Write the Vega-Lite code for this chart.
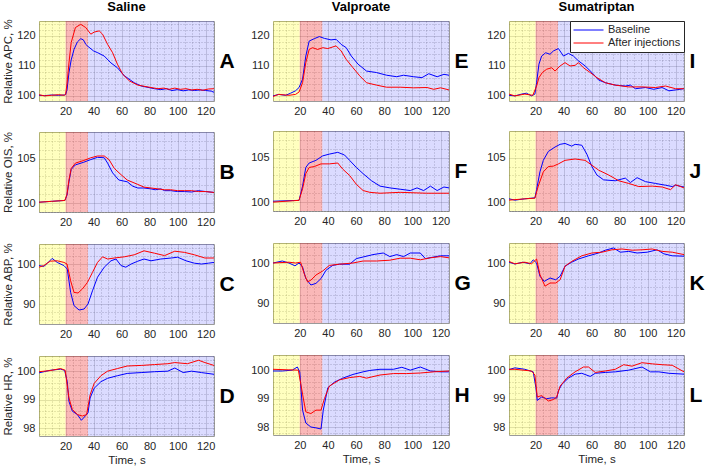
{
"$schema":"https://vega.github.io/schema/vega-lite/v6.json",
"background":"white",
"padding":{"left":2,"top":0,"right":0,"bottom":0},
"config":{"font":"Liberation Sans","view":{"stroke":"#9a9a9a","strokeWidth":1},
"axis":{"labelFontSize":11,"labelColor":"#262626","titleFontSize":11.5,"titleFontWeight":"normal","titleColor":"#262626","ticks":false,"domain":false,"gridColor":"#262626","labelOverlap":false,"labelFlush":false,"labelPadding":4,"titlePadding":3,"format":"d"},
"title":{"fontSize":13,"fontWeight":"bold","offset":0,"color":"black"},
"legend":{"labelFontSize":11,"labelColor":"#262626"}},
"datasets":{
"bands":[{"x1":1,"x2":20,"c":"pre"},{"x1":20,"x2":36,"c":"inj"},{"x1":36,"x2":126,"c":"post"}],
"A":[{"s":"b","t":1,"v":100.2},{"s":"b","t":5,"v":100.1},{"s":"b","t":10,"v":100.3},{"s":"b","t":15,"v":100.2},{"s":"b","t":19,"v":100.3},{"s":"b","t":20,"v":100.4},{"s":"b","t":21,"v":102},{"s":"b","t":22.4,"v":107.8},{"s":"b","t":24,"v":112},{"s":"b","t":26,"v":115.5},{"s":"b","t":28.4,"v":118},{"s":"b","t":30.8,"v":119.1},{"s":"b","t":32.7,"v":118.7},{"s":"b","t":34.4,"v":117.2},{"s":"b","t":36,"v":116.5},{"s":"b","t":40,"v":115},{"s":"b","t":43,"v":114.4},{"s":"b","t":47.6,"v":113.3},{"s":"b","t":52.4,"v":111},{"s":"b","t":57,"v":109.4},{"s":"b","t":62,"v":106.7},{"s":"b","t":69,"v":104.4},{"s":"b","t":74,"v":103.3},{"s":"b","t":83.5,"v":102.4},{"s":"b","t":88,"v":102.1},{"s":"b","t":92,"v":102.4},{"s":"b","t":96,"v":101.8},{"s":"b","t":100,"v":102.1},{"s":"b","t":104,"v":101.7},{"s":"b","t":108,"v":102},{"s":"b","t":112,"v":101.8},{"s":"b","t":116,"v":102},{"s":"b","t":120,"v":101.8},{"s":"b","t":124,"v":101.6},{"s":"b","t":126,"v":101.2},
{"s":"r","t":1,"v":100.4},{"s":"r","t":5,"v":100},{"s":"r","t":10,"v":100.2},{"s":"r","t":15,"v":100.4},{"s":"r","t":19,"v":100.2},{"s":"r","t":20,"v":100.5},{"s":"r","t":21,"v":104},{"s":"r","t":22.4,"v":111},{"s":"r","t":24,"v":117.8},{"s":"r","t":27,"v":122.8},{"s":"r","t":30.8,"v":123.9},{"s":"r","t":34.4,"v":122.8},{"s":"r","t":38,"v":120.6},{"s":"r","t":40.4,"v":121.3},{"s":"r","t":44,"v":121.7},{"s":"r","t":46.4,"v":120.6},{"s":"r","t":50,"v":117.2},{"s":"r","t":53.6,"v":114.4},{"s":"r","t":57,"v":110.6},{"s":"r","t":60.8,"v":107.2},{"s":"r","t":65.6,"v":105},{"s":"r","t":71.6,"v":103.6},{"s":"r","t":81,"v":102.8},{"s":"r","t":86,"v":102.4},{"s":"r","t":90,"v":102.6},{"s":"r","t":94,"v":102.2},{"s":"r","t":98,"v":102.6},{"s":"r","t":102,"v":102.2},{"s":"r","t":106,"v":102.4},{"s":"r","t":110,"v":102},{"s":"r","t":114,"v":102.2},{"s":"r","t":118,"v":101.9},{"s":"r","t":122,"v":102.3},{"s":"r","t":126,"v":102.4}],
"B":[{"s":"b","t":1,"v":100.1},{"s":"b","t":10,"v":100.2},{"s":"b","t":19.5,"v":100.3},{"s":"b","t":21,"v":100.9},{"s":"b","t":22.4,"v":102.4},{"s":"b","t":24,"v":103.8},{"s":"b","t":27,"v":104.3},{"s":"b","t":33,"v":104.6},{"s":"b","t":38,"v":104.9},{"s":"b","t":42.8,"v":105.15},{"s":"b","t":47.6,"v":105.1},{"s":"b","t":50,"v":104.5},{"s":"b","t":53.6,"v":103.4},{"s":"b","t":58,"v":102.6},{"s":"b","t":64,"v":102.4},{"s":"b","t":68,"v":101.9},{"s":"b","t":71.6,"v":101.7},{"s":"b","t":76,"v":101.7},{"s":"b","t":81,"v":101.6},{"s":"b","t":84,"v":101.5},{"s":"b","t":88,"v":101.6},{"s":"b","t":90.7,"v":101.4},{"s":"b","t":95,"v":101.4},{"s":"b","t":100,"v":101.3},{"s":"b","t":105,"v":101.3},{"s":"b","t":110,"v":101.25},{"s":"b","t":114.7,"v":101.4},{"s":"b","t":120,"v":101.3},{"s":"b","t":126,"v":101.2},
{"s":"r","t":1,"v":100.1},{"s":"r","t":10,"v":100.2},{"s":"r","t":19.5,"v":100.3},{"s":"r","t":21,"v":101},{"s":"r","t":22.4,"v":102.6},{"s":"r","t":24,"v":103.9},{"s":"r","t":27,"v":104.5},{"s":"r","t":33,"v":104.8},{"s":"r","t":38,"v":105.1},{"s":"r","t":42.8,"v":105.3},{"s":"r","t":47.6,"v":105.3},{"s":"r","t":51,"v":104.9},{"s":"r","t":54.8,"v":103.9},{"s":"r","t":59.6,"v":103.2},{"s":"r","t":64,"v":102.6},{"s":"r","t":71.6,"v":102.1},{"s":"r","t":76,"v":101.8},{"s":"r","t":81,"v":101.7},{"s":"r","t":86,"v":101.6},{"s":"r","t":90.7,"v":101.5},{"s":"r","t":95,"v":101.5},{"s":"r","t":100,"v":101.4},{"s":"r","t":105,"v":101.4},{"s":"r","t":110,"v":101.4},{"s":"r","t":115,"v":101.3},{"s":"r","t":120,"v":101.3},{"s":"r","t":126,"v":101.2}],
"C":[{"s":"b","t":1,"v":99.6},{"s":"b","t":4.4,"v":99.4},{"s":"b","t":7,"v":100.2},{"s":"b","t":10.4,"v":101.4},{"s":"b","t":14,"v":100.4},{"s":"b","t":18.8,"v":99.6},{"s":"b","t":21.2,"v":98.75},{"s":"b","t":23.6,"v":92.9},{"s":"b","t":26,"v":89.6},{"s":"b","t":29.6,"v":88.5},{"s":"b","t":33.2,"v":88.75},{"s":"b","t":36,"v":90},{"s":"b","t":39.2,"v":93.3},{"s":"b","t":42.8,"v":96.7},{"s":"b","t":47.6,"v":99.2},{"s":"b","t":52.4,"v":100.8},{"s":"b","t":56,"v":101.25},{"s":"b","t":59.6,"v":99.6},{"s":"b","t":63,"v":99.2},{"s":"b","t":66.8,"v":100},{"s":"b","t":71.6,"v":100.7},{"s":"b","t":76,"v":101.25},{"s":"b","t":81,"v":100.8},{"s":"b","t":88,"v":101.25},{"s":"b","t":95.5,"v":101.5},{"s":"b","t":100,"v":101.7},{"s":"b","t":106,"v":100.8},{"s":"b","t":112,"v":100.2},{"s":"b","t":117,"v":100},{"s":"b","t":122,"v":100.2},{"s":"b","t":126,"v":100.4},
{"s":"r","t":1,"v":99.2},{"s":"r","t":4.4,"v":99.6},{"s":"r","t":9,"v":100.7},{"s":"r","t":14,"v":100.8},{"s":"r","t":18.8,"v":100.4},{"s":"r","t":21,"v":100},{"s":"r","t":23.6,"v":95.8},{"s":"r","t":26,"v":92.9},{"s":"r","t":28.9,"v":92.75},{"s":"r","t":32,"v":93.75},{"s":"r","t":35.6,"v":95.4},{"s":"r","t":39.2,"v":97.9},{"s":"r","t":42.8,"v":100.4},{"s":"r","t":46.4,"v":101.8},{"s":"r","t":50,"v":101.25},{"s":"r","t":54.8,"v":101.5},{"s":"r","t":62,"v":101.8},{"s":"r","t":69,"v":102.3},{"s":"r","t":76,"v":103.3},{"s":"r","t":83.5,"v":102.7},{"s":"r","t":90.7,"v":102.1},{"s":"r","t":98,"v":103.2},{"s":"r","t":105,"v":102.9},{"s":"r","t":112,"v":102.3},{"s":"r","t":119.5,"v":101.5},{"s":"r","t":126,"v":101.5}],
"D":[{"s":"b","t":1,"v":99.94},{"s":"b","t":9,"v":100.03},{"s":"b","t":16.4,"v":100.07},{"s":"b","t":19.3,"v":100.03},{"s":"b","t":21.2,"v":99.63},{"s":"b","t":22.4,"v":98.94},{"s":"b","t":24.8,"v":98.6},{"s":"b","t":28.4,"v":98.48},{"s":"b","t":31.3,"v":98.28},{"s":"b","t":34.4,"v":98.45},{"s":"b","t":36,"v":98.54},{"s":"b","t":37.5,"v":99.06},{"s":"b","t":40.4,"v":99.4},{"s":"b","t":45.2,"v":99.63},{"s":"b","t":50,"v":99.75},{"s":"b","t":57,"v":99.84},{"s":"b","t":64,"v":99.92},{"s":"b","t":74,"v":99.95},{"s":"b","t":83.5,"v":99.98},{"s":"b","t":93,"v":100},{"s":"b","t":98,"v":100.11},{"s":"b","t":104,"v":99.95},{"s":"b","t":110,"v":100},{"s":"b","t":117,"v":99.95},{"s":"b","t":126,"v":99.89},
{"s":"r","t":1,"v":99.98},{"s":"r","t":9,"v":100.02},{"s":"r","t":16.4,"v":100.09},{"s":"r","t":19.7,"v":100.03},{"s":"r","t":22.4,"v":99.06},{"s":"r","t":24.8,"v":98.66},{"s":"r","t":28.4,"v":98.48},{"s":"r","t":32,"v":98.43},{"s":"r","t":35,"v":98.48},{"s":"r","t":37.5,"v":99.17},{"s":"r","t":40.4,"v":99.57},{"s":"r","t":45.2,"v":99.84},{"s":"r","t":50,"v":100},{"s":"r","t":57,"v":100.09},{"s":"r","t":64,"v":100.18},{"s":"r","t":74,"v":100.2},{"s":"r","t":83.5,"v":100.23},{"s":"r","t":93,"v":100.26},{"s":"r","t":98,"v":100.3},{"s":"r","t":107,"v":100.26},{"s":"r","t":115,"v":100.38},{"s":"r","t":119.5,"v":100.3},{"s":"r","t":126,"v":100.2}],
"E":[{"s":"b","t":1,"v":100},{"s":"b","t":5,"v":100.5},{"s":"b","t":10,"v":100.2},{"s":"b","t":13.5,"v":100.9},{"s":"b","t":17,"v":101.7},{"s":"b","t":19.5,"v":102.8},{"s":"b","t":22,"v":105.6},{"s":"b","t":24.3,"v":113.3},{"s":"b","t":26.7,"v":118.3},{"s":"b","t":30.3,"v":119.1},{"s":"b","t":33.9,"v":119.8},{"s":"b","t":37.5,"v":119.2},{"s":"b","t":42.2,"v":118.7},{"s":"b","t":45.8,"v":118.9},{"s":"b","t":49.4,"v":117.2},{"s":"b","t":53,"v":116.1},{"s":"b","t":56.6,"v":113.3},{"s":"b","t":61.4,"v":110.6},{"s":"b","t":67.4,"v":108.3},{"s":"b","t":74.5,"v":107.8},{"s":"b","t":81.7,"v":106.9},{"s":"b","t":88.9,"v":106.4},{"s":"b","t":93.7,"v":106.9},{"s":"b","t":100.9,"v":106.4},{"s":"b","t":106.8,"v":106.1},{"s":"b","t":111.6,"v":107.4},{"s":"b","t":117.6,"v":106.4},{"s":"b","t":122.4,"v":107.2},{"s":"b","t":126,"v":106.9},
{"s":"r","t":1,"v":99.8},{"s":"r","t":5,"v":100.5},{"s":"r","t":12.3,"v":100.2},{"s":"r","t":17,"v":100.5},{"s":"r","t":19.5,"v":101.3},{"s":"r","t":22,"v":104.4},{"s":"r","t":24.3,"v":111.1},{"s":"r","t":26.7,"v":115.5},{"s":"r","t":29.1,"v":116.1},{"s":"r","t":32.7,"v":115.5},{"s":"r","t":36.3,"v":116.1},{"s":"r","t":39.9,"v":115.8},{"s":"r","t":45.8,"v":116.7},{"s":"r","t":49.4,"v":115},{"s":"r","t":53,"v":112.2},{"s":"r","t":57.8,"v":109.4},{"s":"r","t":62.6,"v":106.7},{"s":"r","t":67.4,"v":104.4},{"s":"r","t":74.5,"v":103.6},{"s":"r","t":81.7,"v":102.9},{"s":"r","t":91.3,"v":102.9},{"s":"r","t":100.9,"v":102.7},{"s":"r","t":110.4,"v":102.8},{"s":"r","t":115.2,"v":102.2},{"s":"r","t":120,"v":102.7},{"s":"r","t":126,"v":102}],
"F":[{"s":"b","t":1,"v":100.1},{"s":"b","t":19.5,"v":100.2},{"s":"b","t":22,"v":101.8},{"s":"b","t":24.3,"v":103.9},{"s":"b","t":26.7,"v":104.4},{"s":"b","t":31.5,"v":104.7},{"s":"b","t":36.3,"v":105.2},{"s":"b","t":41,"v":105.4},{"s":"b","t":47,"v":105.6},{"s":"b","t":51.8,"v":105.3},{"s":"b","t":55.4,"v":104.7},{"s":"b","t":60.2,"v":103.9},{"s":"b","t":65,"v":103.2},{"s":"b","t":71,"v":102.4},{"s":"b","t":77,"v":101.8},{"s":"b","t":84,"v":101.6},{"s":"b","t":91.3,"v":101.45},{"s":"b","t":98.5,"v":101.3},{"s":"b","t":103.3,"v":101.6},{"s":"b","t":108,"v":101.3},{"s":"b","t":112.8,"v":101.8},{"s":"b","t":117.6,"v":101.3},{"s":"b","t":122.4,"v":101.7},{"s":"b","t":126,"v":101.6},
{"s":"r","t":1,"v":100},{"s":"r","t":19.5,"v":100.2},{"s":"r","t":22,"v":101.5},{"s":"r","t":24.3,"v":103.2},{"s":"r","t":26.7,"v":103.9},{"s":"r","t":30.3,"v":104},{"s":"r","t":35.1,"v":104.3},{"s":"r","t":41,"v":104.3},{"s":"r","t":47,"v":104.4},{"s":"r","t":50.6,"v":103.7},{"s":"r","t":55.4,"v":103},{"s":"r","t":60.2,"v":102},{"s":"r","t":65,"v":101.3},{"s":"r","t":69.8,"v":101.1},{"s":"r","t":77,"v":101},{"s":"r","t":91.3,"v":101.1},{"s":"r","t":110,"v":101},{"s":"r","t":126,"v":101}],
"G":[{"s":"b","t":1,"v":100},{"s":"b","t":7.6,"v":100.5},{"s":"b","t":12.3,"v":100},{"s":"b","t":16.6,"v":99.3},{"s":"b","t":19.5,"v":100},{"s":"b","t":22,"v":99},{"s":"b","t":24.3,"v":96.1},{"s":"b","t":27.9,"v":94.5},{"s":"b","t":31.5,"v":94.9},{"s":"b","t":35.1,"v":96.1},{"s":"b","t":38.7,"v":98.2},{"s":"b","t":43.4,"v":99.4},{"s":"b","t":48.2,"v":99.7},{"s":"b","t":55.4,"v":99.7},{"s":"b","t":60.2,"v":101.1},{"s":"b","t":65,"v":101.5},{"s":"b","t":72,"v":102.1},{"s":"b","t":79.3,"v":102.5},{"s":"b","t":84,"v":101.6},{"s":"b","t":88.9,"v":102.1},{"s":"b","t":93.7,"v":101.6},{"s":"b","t":98.5,"v":102.5},{"s":"b","t":105.6,"v":102.5},{"s":"b","t":109.2,"v":101.1},{"s":"b","t":115.2,"v":101.5},{"s":"b","t":120,"v":101.8},{"s":"b","t":126,"v":101.8},
{"s":"r","t":1,"v":100},{"s":"r","t":12.3,"v":100.2},{"s":"r","t":17.1,"v":100},{"s":"r","t":20.6,"v":100.2},{"s":"r","t":23.1,"v":97.4},{"s":"r","t":25.5,"v":95.3},{"s":"r","t":27.9,"v":95.7},{"s":"r","t":31.5,"v":97},{"s":"r","t":36.3,"v":98},{"s":"r","t":41,"v":99.4},{"s":"r","t":48.2,"v":99.7},{"s":"r","t":57.8,"v":100},{"s":"r","t":65,"v":100.5},{"s":"r","t":74.5,"v":100.5},{"s":"r","t":84,"v":100.7},{"s":"r","t":91.3,"v":101.2},{"s":"r","t":98.5,"v":101.2},{"s":"r","t":105.6,"v":100.8},{"s":"r","t":112.8,"v":101.3},{"s":"r","t":120,"v":101.6},{"s":"r","t":126,"v":101.3}],
"H":[{"s":"b","t":1,"v":99.97},{"s":"b","t":7.6,"v":99.97},{"s":"b","t":14.7,"v":100},{"s":"b","t":18.3,"v":100.11},{"s":"b","t":20,"v":99.94},{"s":"b","t":22,"v":98.6},{"s":"b","t":24.3,"v":98.15},{"s":"b","t":27.9,"v":98.01},{"s":"b","t":31.5,"v":97.98},{"s":"b","t":35.1,"v":97.94},{"s":"b","t":36.7,"v":98.6},{"s":"b","t":39.9,"v":99.38},{"s":"b","t":44.6,"v":99.58},{"s":"b","t":50.6,"v":99.72},{"s":"b","t":57.8,"v":99.85},{"s":"b","t":65,"v":99.94},{"s":"b","t":69.8,"v":99.99},{"s":"b","t":77,"v":100.03},{"s":"b","t":86.5,"v":100.03},{"s":"b","t":92.5,"v":100.1},{"s":"b","t":98.5,"v":100},{"s":"b","t":105.6,"v":100.11},{"s":"b","t":112.8,"v":99.97},{"s":"b","t":120,"v":99.94},{"s":"b","t":126,"v":99.94},
{"s":"r","t":1,"v":100.03},{"s":"r","t":12.3,"v":100.01},{"s":"r","t":19,"v":100},{"s":"r","t":22,"v":99.16},{"s":"r","t":24.3,"v":98.54},{"s":"r","t":27.9,"v":98.48},{"s":"r","t":31.5,"v":98.6},{"s":"r","t":35.1,"v":98.6},{"s":"r","t":37.5,"v":99},{"s":"r","t":41,"v":99.44},{"s":"r","t":48.2,"v":99.66},{"s":"r","t":55.4,"v":99.74},{"s":"r","t":62.6,"v":99.78},{"s":"r","t":67.4,"v":99.72},{"s":"r","t":77,"v":99.83},{"s":"r","t":86.5,"v":99.88},{"s":"r","t":96,"v":99.88},{"s":"r","t":105.6,"v":99.9},{"s":"r","t":115.2,"v":99.94},{"s":"r","t":126,"v":99.97}],
"I":[{"s":"b","t":1,"v":100.2},{"s":"b","t":5.2,"v":100},{"s":"b","t":10,"v":100.6},{"s":"b","t":13.5,"v":100.9},{"s":"b","t":17.1,"v":100},{"s":"b","t":19.5,"v":100.6},{"s":"b","t":20.7,"v":104.4},{"s":"b","t":22.4,"v":110.6},{"s":"b","t":24.3,"v":113.3},{"s":"b","t":27.2,"v":114.4},{"s":"b","t":30.3,"v":113.9},{"s":"b","t":32.7,"v":115},{"s":"b","t":36.3,"v":115.8},{"s":"b","t":39.9,"v":113.3},{"s":"b","t":43.4,"v":114.2},{"s":"b","t":47,"v":113.3},{"s":"b","t":50.6,"v":111.7},{"s":"b","t":55.4,"v":110},{"s":"b","t":60.2,"v":107.8},{"s":"b","t":65,"v":105.3},{"s":"b","t":69.8,"v":104.4},{"s":"b","t":76.9,"v":103.6},{"s":"b","t":84.1,"v":103.3},{"s":"b","t":87.7,"v":103.6},{"s":"b","t":91.3,"v":102.4},{"s":"b","t":98.5,"v":102.8},{"s":"b","t":104.4,"v":102.2},{"s":"b","t":110.4,"v":102.8},{"s":"b","t":115.2,"v":101.7},{"s":"b","t":120,"v":102},{"s":"b","t":126,"v":102.4},
{"s":"r","t":1,"v":100.6},{"s":"r","t":5.2,"v":100},{"s":"r","t":12.3,"v":100.6},{"s":"r","t":18,"v":100.2},{"s":"r","t":20.7,"v":103.3},{"s":"r","t":22.4,"v":106.1},{"s":"r","t":24.8,"v":107.8},{"s":"r","t":27.9,"v":108.9},{"s":"r","t":31.5,"v":109.4},{"s":"r","t":33.9,"v":108.3},{"s":"r","t":37.5,"v":110},{"s":"r","t":41,"v":111.1},{"s":"r","t":44.6,"v":110},{"s":"r","t":48.2,"v":110.2},{"s":"r","t":50.6,"v":111.1},{"s":"r","t":54.2,"v":109.4},{"s":"r","t":59,"v":107.8},{"s":"r","t":63.8,"v":106.1},{"s":"r","t":69.8,"v":104.4},{"s":"r","t":76.9,"v":103.6},{"s":"r","t":86.5,"v":103},{"s":"r","t":96,"v":103},{"s":"r","t":105.6,"v":102.8},{"s":"r","t":112.8,"v":103.3},{"s":"r","t":120,"v":102.4},{"s":"r","t":126,"v":102.4}],
"J":[{"s":"b","t":1,"v":100.37},{"s":"b","t":5.2,"v":100.22},{"s":"b","t":12.3,"v":100.37},{"s":"b","t":19.5,"v":100.48},{"s":"b","t":20.7,"v":101.4},{"s":"b","t":23.1,"v":103.4},{"s":"b","t":25.5,"v":104.7},{"s":"b","t":29.1,"v":105.7},{"s":"b","t":33.9,"v":106.2},{"s":"b","t":37.5,"v":106.5},{"s":"b","t":41,"v":106.6},{"s":"b","t":45.8,"v":106.3},{"s":"b","t":48.2,"v":106.5},{"s":"b","t":53,"v":106.4},{"s":"b","t":56.6,"v":105.4},{"s":"b","t":60.2,"v":104},{"s":"b","t":63.8,"v":103.05},{"s":"b","t":68.6,"v":102.5},{"s":"b","t":76.9,"v":102.4},{"s":"b","t":84.1,"v":102.7},{"s":"b","t":87.7,"v":102.2},{"s":"b","t":92.5,"v":102.75},{"s":"b","t":98.5,"v":102.3},{"s":"b","t":105.6,"v":102.1},{"s":"b","t":112.8,"v":101.9},{"s":"b","t":117.6,"v":101.75},{"s":"b","t":120,"v":101.9},{"s":"b","t":126,"v":101.7},
{"s":"r","t":1,"v":100.22},{"s":"r","t":12.3,"v":100.37},{"s":"r","t":19.5,"v":100.44},{"s":"r","t":21.9,"v":101.8},{"s":"r","t":25.5,"v":103.4},{"s":"r","t":29.1,"v":104},{"s":"r","t":32.7,"v":104.05},{"s":"r","t":36.3,"v":104.3},{"s":"r","t":41,"v":104.7},{"s":"r","t":48.2,"v":104.85},{"s":"r","t":55.4,"v":104.7},{"s":"r","t":60.2,"v":104.15},{"s":"r","t":65,"v":103.6},{"s":"r","t":72.2,"v":103.05},{"s":"r","t":79.4,"v":102.4},{"s":"r","t":86.5,"v":102.1},{"s":"r","t":93.7,"v":101.75},{"s":"r","t":103.3,"v":101.8},{"s":"r","t":110.4,"v":101.7},{"s":"r","t":116.4,"v":101.4},{"s":"r","t":120,"v":101.95},{"s":"r","t":126,"v":101.6}],
"K":[{"s":"b","t":1,"v":100.2},{"s":"b","t":5.2,"v":99.75},{"s":"b","t":11,"v":100.2},{"s":"b","t":16,"v":99.8},{"s":"b","t":18.3,"v":100.8},{"s":"b","t":20.7,"v":100},{"s":"b","t":23.1,"v":96.7},{"s":"b","t":26.2,"v":95.4},{"s":"b","t":30.3,"v":96.25},{"s":"b","t":34.4,"v":95.8},{"s":"b","t":37.5,"v":96.7},{"s":"b","t":41,"v":99.2},{"s":"b","t":45.8,"v":100.2},{"s":"b","t":50.6,"v":101},{"s":"b","t":57.8,"v":101.8},{"s":"b","t":65,"v":102.5},{"s":"b","t":69.8,"v":103.2},{"s":"b","t":75.7,"v":103.75},{"s":"b","t":80.5,"v":102.7},{"s":"b","t":86.5,"v":102.9},{"s":"b","t":92.5,"v":102.5},{"s":"b","t":99.7,"v":102.7},{"s":"b","t":106.8,"v":103.3},{"s":"b","t":111.6,"v":102.3},{"s":"b","t":117.6,"v":101.8},{"s":"b","t":126,"v":101.7},
{"s":"r","t":1,"v":100.4},{"s":"r","t":5.2,"v":99.8},{"s":"r","t":12.3,"v":100.2},{"s":"r","t":17.1,"v":99.8},{"s":"r","t":20.7,"v":101},{"s":"r","t":23.1,"v":97.1},{"s":"r","t":26.7,"v":94.2},{"s":"r","t":30.3,"v":95},{"s":"r","t":34.4,"v":95},{"s":"r","t":37.5,"v":95.8},{"s":"r","t":41,"v":99.2},{"s":"r","t":45.8,"v":100.4},{"s":"r","t":53,"v":101.8},{"s":"r","t":60.2,"v":102.5},{"s":"r","t":67.4,"v":102.7},{"s":"r","t":74.5,"v":103.3},{"s":"r","t":81.7,"v":103.5},{"s":"r","t":89,"v":103.2},{"s":"r","t":96,"v":103.3},{"s":"r","t":103.3,"v":103.5},{"s":"r","t":110.4,"v":102.9},{"s":"r","t":117.6,"v":102.7},{"s":"r","t":126,"v":102.1}],
"L":[{"s":"b","t":1,"v":100.02},{"s":"b","t":5.2,"v":100.08},{"s":"b","t":12.3,"v":100.03},{"s":"b","t":18.3,"v":99.94},{"s":"b","t":20.2,"v":99.39},{"s":"b","t":21.2,"v":98.94},{"s":"b","t":24.3,"v":99.06},{"s":"b","t":27.9,"v":99},{"s":"b","t":31.5,"v":99.03},{"s":"b","t":35.1,"v":99.02},{"s":"b","t":36.3,"v":99.28},{"s":"b","t":38.7,"v":99.5},{"s":"b","t":43.4,"v":99.72},{"s":"b","t":48.2,"v":99.86},{"s":"b","t":53,"v":99.89},{"s":"b","t":59,"v":99.78},{"s":"b","t":62.6,"v":99.89},{"s":"b","t":69.8,"v":99.92},{"s":"b","t":76.9,"v":99.94},{"s":"b","t":86.5,"v":100},{"s":"b","t":96,"v":100.11},{"s":"b","t":102,"v":99.94},{"s":"b","t":108,"v":99.94},{"s":"b","t":115.2,"v":99.89},{"s":"b","t":126,"v":99.86},
{"s":"r","t":1,"v":100.03},{"s":"r","t":5.2,"v":100.03},{"s":"r","t":17.1,"v":99.97},{"s":"r","t":19.5,"v":99.83},{"s":"r","t":21.2,"v":99.06},{"s":"r","t":24.3,"v":99.11},{"s":"r","t":29.1,"v":98.92},{"s":"r","t":32.7,"v":98.97},{"s":"r","t":35.1,"v":99.06},{"s":"r","t":37.5,"v":99.44},{"s":"r","t":42.2,"v":99.72},{"s":"r","t":48.2,"v":99.94},{"s":"r","t":54.2,"v":100.11},{"s":"r","t":57.8,"v":100.11},{"s":"r","t":62.6,"v":99.92},{"s":"r","t":69.8,"v":99.97},{"s":"r","t":76.9,"v":100.03},{"s":"r","t":82.9,"v":100.19},{"s":"r","t":88.9,"v":100.14},{"s":"r","t":96,"v":100.26},{"s":"r","t":103.3,"v":100.22},{"s":"r","t":110.4,"v":100.19},{"s":"r","t":117.6,"v":100.17},{"s":"r","t":126,"v":99.94}]
},
"spacing":15,
"resolve":{"legend":{"stroke":"independent","fill":"independent"}},
"hconcat":[
{"spacing":13,"resolve":{"legend":{"stroke":"independent","fill":"independent"}},"vconcat":[
{"width":175,"height":80,"title":"Saline","resolve":{"axis":{"y":"independent"}},"layer":[
{"data":{"name":"bands"},"mark":"rect","encoding":{"x":{"field":"x1","type":"quantitative","scale":{"domain":[1,126],"nice":false,"zero":false},"axis":{"title":null,"values":[5,10,15,20,25,30,35,40,45,50,55,60,65,70,75,80,85,90,95,100,105,110,115,120,125],"labelExpr":"datum.value % 20 == 0 ? datum.label : ''","gridDash":{"condition":{"test":"datum.value % 20 != 0","value":[1,2]},"value":[]},"gridOpacity":{"condition":{"test":"datum.value % 20 != 0","value":0.3},"value":0.18}}},"x2":{"field":"x2"},"fill":{"field":"c","type":"nominal","scale":{"domain":["pre","inj","post"],"range":["rgba(255,255,0,0.25)","rgba(240,40,40,0.33)","rgba(40,40,255,0.17)"]},"legend":null}}},
{"data":{"name":"A"},"mark":{"type":"line","strokeWidth":1,"clip":true},"encoding":{"x":{"field":"t","type":"quantitative","scale":{"domain":[1,126],"nice":false,"zero":false},"axis":{"title":null,"values":[5,10,15,20,25,30,35,40,45,50,55,60,65,70,75,80,85,90,95,100,105,110,115,120,125],"labelExpr":"datum.value % 20 == 0 ? datum.label : ''","gridDash":{"condition":{"test":"datum.value % 20 != 0","value":[1,2]},"value":[]},"gridOpacity":{"condition":{"test":"datum.value % 20 != 0","value":0.3},"value":0.18}}},"y":{"field":"v","type":"quantitative","scale":{"domain":[98.3,125],"nice":false,"zero":false},"axis":{"title":"Relative APC, %","values":[100,102,104,106,108,110,112,114,116,118,120,122,124],"labelExpr":"datum.value % 10 == 0 ? datum.label : ''","gridDash":{"condition":{"test":"datum.value % 10 != 0","value":[1,2]},"value":[]},"gridOpacity":{"condition":{"test":"datum.value % 10 != 0","value":0.3},"value":0.18}}},"stroke":{"field":"s","type":"nominal","scale":{"domain":["b","r"],"range":["#0000FF","#FF0000"]},"legend":null}}},
{"data":{"name":"A"},"mark":{"type":"point","opacity":0},"encoding":{"y":{"field":"v","type":"quantitative","scale":{"domain":[98.3,125],"nice":false,"zero":false},"axis":{"orient":"right","title":"A","labels":false,"grid":false,"titleAngle":0,"titleFontSize":21,"titleFontWeight":"bold","titleColor":"black","titlePadding":5,"titleAlign":"left","titleBaseline":"middle"}}}}]},
{"width":175,"height":80,"resolve":{"axis":{"y":"independent"}},"layer":[
{"data":{"name":"bands"},"mark":"rect","encoding":{"x":{"field":"x1","type":"quantitative","scale":{"domain":[1,126],"nice":false,"zero":false},"axis":{"title":null,"values":[5,10,15,20,25,30,35,40,45,50,55,60,65,70,75,80,85,90,95,100,105,110,115,120,125],"labelExpr":"datum.value % 20 == 0 ? datum.label : ''","gridDash":{"condition":{"test":"datum.value % 20 != 0","value":[1,2]},"value":[]},"gridOpacity":{"condition":{"test":"datum.value % 20 != 0","value":0.3},"value":0.18}}},"x2":{"field":"x2"},"fill":{"field":"c","type":"nominal","scale":{"domain":["pre","inj","post"],"range":["rgba(255,255,0,0.25)","rgba(240,40,40,0.33)","rgba(40,40,255,0.17)"]},"legend":null}}},
{"data":{"name":"B"},"mark":{"type":"line","strokeWidth":1,"clip":true},"encoding":{"x":{"field":"t","type":"quantitative","scale":{"domain":[1,126],"nice":false,"zero":false},"axis":{"title":null,"values":[5,10,15,20,25,30,35,40,45,50,55,60,65,70,75,80,85,90,95,100,105,110,115,120,125],"labelExpr":"datum.value % 20 == 0 ? datum.label : ''","gridDash":{"condition":{"test":"datum.value % 20 != 0","value":[1,2]},"value":[]},"gridOpacity":{"condition":{"test":"datum.value % 20 != 0","value":0.3},"value":0.18}}},"y":{"field":"v","type":"quantitative","scale":{"domain":[99,108],"nice":false,"zero":false},"axis":{"title":"Relative OIS, %","values":[99,100,101,102,103,104,105,106,107],"labelExpr":"datum.value % 5 == 0 ? datum.label : ''","gridDash":{"condition":{"test":"datum.value % 5 != 0","value":[1,2]},"value":[]},"gridOpacity":{"condition":{"test":"datum.value % 5 != 0","value":0.3},"value":0.18}}},"stroke":{"field":"s","type":"nominal","scale":{"domain":["b","r"],"range":["#0000FF","#FF0000"]},"legend":null}}},
{"data":{"name":"B"},"mark":{"type":"point","opacity":0},"encoding":{"y":{"field":"v","type":"quantitative","scale":{"domain":[99,108],"nice":false,"zero":false},"axis":{"orient":"right","title":"B","labels":false,"grid":false,"titleAngle":0,"titleFontSize":21,"titleFontWeight":"bold","titleColor":"black","titlePadding":5,"titleAlign":"left","titleBaseline":"middle"}}}}]},
{"width":175,"height":80,"resolve":{"axis":{"y":"independent"}},"layer":[
{"data":{"name":"bands"},"mark":"rect","encoding":{"x":{"field":"x1","type":"quantitative","scale":{"domain":[1,126],"nice":false,"zero":false},"axis":{"title":null,"values":[5,10,15,20,25,30,35,40,45,50,55,60,65,70,75,80,85,90,95,100,105,110,115,120,125],"labelExpr":"datum.value % 20 == 0 ? datum.label : ''","gridDash":{"condition":{"test":"datum.value % 20 != 0","value":[1,2]},"value":[]},"gridOpacity":{"condition":{"test":"datum.value % 20 != 0","value":0.3},"value":0.18}}},"x2":{"field":"x2"},"fill":{"field":"c","type":"nominal","scale":{"domain":["pre","inj","post"],"range":["rgba(255,255,0,0.25)","rgba(240,40,40,0.33)","rgba(40,40,255,0.17)"]},"legend":null}}},
{"data":{"name":"C"},"mark":{"type":"line","strokeWidth":1,"clip":true},"encoding":{"x":{"field":"t","type":"quantitative","scale":{"domain":[1,126],"nice":false,"zero":false},"axis":{"title":null,"values":[5,10,15,20,25,30,35,40,45,50,55,60,65,70,75,80,85,90,95,100,105,110,115,120,125],"labelExpr":"datum.value % 20 == 0 ? datum.label : ''","gridDash":{"condition":{"test":"datum.value % 20 != 0","value":[1,2]},"value":[]},"gridOpacity":{"condition":{"test":"datum.value % 20 != 0","value":0.3},"value":0.18}}},"y":{"field":"v","type":"quantitative","scale":{"domain":[85,105],"nice":false,"zero":false},"axis":{"title":"Relative ABP, %","values":[86,88,90,92,94,96,98,100,102,104],"labelExpr":"datum.value % 10 == 0 ? datum.label : ''","gridDash":{"condition":{"test":"datum.value % 10 != 0","value":[1,2]},"value":[]},"gridOpacity":{"condition":{"test":"datum.value % 10 != 0","value":0.3},"value":0.18}}},"stroke":{"field":"s","type":"nominal","scale":{"domain":["b","r"],"range":["#0000FF","#FF0000"]},"legend":null}}},
{"data":{"name":"C"},"mark":{"type":"point","opacity":0},"encoding":{"y":{"field":"v","type":"quantitative","scale":{"domain":[85,105],"nice":false,"zero":false},"axis":{"orient":"right","title":"C","labels":false,"grid":false,"titleAngle":0,"titleFontSize":21,"titleFontWeight":"bold","titleColor":"black","titlePadding":5,"titleAlign":"left","titleBaseline":"middle"}}}}]},
{"width":175,"height":80,"resolve":{"axis":{"y":"independent"}},"layer":[
{"data":{"name":"bands"},"mark":"rect","encoding":{"x":{"field":"x1","type":"quantitative","scale":{"domain":[1,126],"nice":false,"zero":false},"axis":{"title":"Time, s","values":[5,10,15,20,25,30,35,40,45,50,55,60,65,70,75,80,85,90,95,100,105,110,115,120,125],"labelExpr":"datum.value % 20 == 0 ? datum.label : ''","gridDash":{"condition":{"test":"datum.value % 20 != 0","value":[1,2]},"value":[]},"gridOpacity":{"condition":{"test":"datum.value % 20 != 0","value":0.3},"value":0.18}}},"x2":{"field":"x2"},"fill":{"field":"c","type":"nominal","scale":{"domain":["pre","inj","post"],"range":["rgba(255,255,0,0.25)","rgba(240,40,40,0.33)","rgba(40,40,255,0.17)"]},"legend":null}}},
{"data":{"name":"D"},"mark":{"type":"line","strokeWidth":1,"clip":true},"encoding":{"x":{"field":"t","type":"quantitative","scale":{"domain":[1,126],"nice":false,"zero":false},"axis":{"title":"Time, s","values":[5,10,15,20,25,30,35,40,45,50,55,60,65,70,75,80,85,90,95,100,105,110,115,120,125],"labelExpr":"datum.value % 20 == 0 ? datum.label : ''","gridDash":{"condition":{"test":"datum.value % 20 != 0","value":[1,2]},"value":[]},"gridOpacity":{"condition":{"test":"datum.value % 20 != 0","value":0.3},"value":0.18}}},"y":{"field":"v","type":"quantitative","scale":{"domain":[97.73,100.53],"nice":false,"zero":false},"axis":{"title":"Relative HR, %","values":[97.8,98,98.2,98.4,98.6,98.8,99,99.2,99.4,99.6,99.8,100,100.2,100.4],"labelExpr":"datum.value % 1 == 0 ? datum.label : ''","gridDash":{"condition":{"test":"datum.value % 1 != 0","value":[1,2]},"value":[]},"gridOpacity":{"condition":{"test":"datum.value % 1 != 0","value":0.3},"value":0.18}}},"stroke":{"field":"s","type":"nominal","scale":{"domain":["b","r"],"range":["#0000FF","#FF0000"]},"legend":null}}},
{"data":{"name":"D"},"mark":{"type":"point","opacity":0},"encoding":{"y":{"field":"v","type":"quantitative","scale":{"domain":[97.73,100.53],"nice":false,"zero":false},"axis":{"orient":"right","title":"D","labels":false,"grid":false,"titleAngle":0,"titleFontSize":21,"titleFontWeight":"bold","titleColor":"black","titlePadding":5,"titleAlign":"left","titleBaseline":"middle"}}}}]}
]},
{"spacing":13,"resolve":{"legend":{"stroke":"independent","fill":"independent"}},"vconcat":[
{"width":176,"height":80,"title":"Valproate","resolve":{"axis":{"y":"independent"}},"layer":[
{"data":{"name":"bands"},"mark":"rect","encoding":{"x":{"field":"x1","type":"quantitative","scale":{"domain":[1,126],"nice":false,"zero":false},"axis":{"title":null,"values":[5,10,15,20,25,30,35,40,45,50,55,60,65,70,75,80,85,90,95,100,105,110,115,120,125],"labelExpr":"datum.value % 20 == 0 ? datum.label : ''","gridDash":{"condition":{"test":"datum.value % 20 != 0","value":[1,2]},"value":[]},"gridOpacity":{"condition":{"test":"datum.value % 20 != 0","value":0.3},"value":0.18}}},"x2":{"field":"x2"},"fill":{"field":"c","type":"nominal","scale":{"domain":["pre","inj","post"],"range":["rgba(255,255,0,0.25)","rgba(240,40,40,0.33)","rgba(40,40,255,0.17)"]},"legend":null}}},
{"data":{"name":"E"},"mark":{"type":"line","strokeWidth":1,"clip":true},"encoding":{"x":{"field":"t","type":"quantitative","scale":{"domain":[1,126],"nice":false,"zero":false},"axis":{"title":null,"values":[5,10,15,20,25,30,35,40,45,50,55,60,65,70,75,80,85,90,95,100,105,110,115,120,125],"labelExpr":"datum.value % 20 == 0 ? datum.label : ''","gridDash":{"condition":{"test":"datum.value % 20 != 0","value":[1,2]},"value":[]},"gridOpacity":{"condition":{"test":"datum.value % 20 != 0","value":0.3},"value":0.18}}},"y":{"field":"v","type":"quantitative","scale":{"domain":[98.3,125],"nice":false,"zero":false},"axis":{"title":null,"values":[100,102,104,106,108,110,112,114,116,118,120,122,124],"labelExpr":"datum.value % 10 == 0 ? datum.label : ''","gridDash":{"condition":{"test":"datum.value % 10 != 0","value":[1,2]},"value":[]},"gridOpacity":{"condition":{"test":"datum.value % 10 != 0","value":0.3},"value":0.18}}},"stroke":{"field":"s","type":"nominal","scale":{"domain":["b","r"],"range":["#0000FF","#FF0000"]},"legend":null}}},
{"data":{"name":"E"},"mark":{"type":"point","opacity":0},"encoding":{"y":{"field":"v","type":"quantitative","scale":{"domain":[98.3,125],"nice":false,"zero":false},"axis":{"orient":"right","title":"E","labels":false,"grid":false,"titleAngle":0,"titleFontSize":21,"titleFontWeight":"bold","titleColor":"black","titlePadding":5,"titleAlign":"left","titleBaseline":"middle"}}}}]},
{"width":176,"height":80,"resolve":{"axis":{"y":"independent"}},"layer":[
{"data":{"name":"bands"},"mark":"rect","encoding":{"x":{"field":"x1","type":"quantitative","scale":{"domain":[1,126],"nice":false,"zero":false},"axis":{"title":null,"values":[5,10,15,20,25,30,35,40,45,50,55,60,65,70,75,80,85,90,95,100,105,110,115,120,125],"labelExpr":"datum.value % 20 == 0 ? datum.label : ''","gridDash":{"condition":{"test":"datum.value % 20 != 0","value":[1,2]},"value":[]},"gridOpacity":{"condition":{"test":"datum.value % 20 != 0","value":0.3},"value":0.18}}},"x2":{"field":"x2"},"fill":{"field":"c","type":"nominal","scale":{"domain":["pre","inj","post"],"range":["rgba(255,255,0,0.25)","rgba(240,40,40,0.33)","rgba(40,40,255,0.17)"]},"legend":null}}},
{"data":{"name":"F"},"mark":{"type":"line","strokeWidth":1,"clip":true},"encoding":{"x":{"field":"t","type":"quantitative","scale":{"domain":[1,126],"nice":false,"zero":false},"axis":{"title":null,"values":[5,10,15,20,25,30,35,40,45,50,55,60,65,70,75,80,85,90,95,100,105,110,115,120,125],"labelExpr":"datum.value % 20 == 0 ? datum.label : ''","gridDash":{"condition":{"test":"datum.value % 20 != 0","value":[1,2]},"value":[]},"gridOpacity":{"condition":{"test":"datum.value % 20 != 0","value":0.3},"value":0.18}}},"y":{"field":"v","type":"quantitative","scale":{"domain":[99,108],"nice":false,"zero":false},"axis":{"title":null,"values":[99,100,101,102,103,104,105,106,107],"labelExpr":"datum.value % 5 == 0 ? datum.label : ''","gridDash":{"condition":{"test":"datum.value % 5 != 0","value":[1,2]},"value":[]},"gridOpacity":{"condition":{"test":"datum.value % 5 != 0","value":0.3},"value":0.18}}},"stroke":{"field":"s","type":"nominal","scale":{"domain":["b","r"],"range":["#0000FF","#FF0000"]},"legend":null}}},
{"data":{"name":"F"},"mark":{"type":"point","opacity":0},"encoding":{"y":{"field":"v","type":"quantitative","scale":{"domain":[99,108],"nice":false,"zero":false},"axis":{"orient":"right","title":"F","labels":false,"grid":false,"titleAngle":0,"titleFontSize":21,"titleFontWeight":"bold","titleColor":"black","titlePadding":5,"titleAlign":"left","titleBaseline":"middle"}}}}]},
{"width":176,"height":80,"resolve":{"axis":{"y":"independent"}},"layer":[
{"data":{"name":"bands"},"mark":"rect","encoding":{"x":{"field":"x1","type":"quantitative","scale":{"domain":[1,126],"nice":false,"zero":false},"axis":{"title":null,"values":[5,10,15,20,25,30,35,40,45,50,55,60,65,70,75,80,85,90,95,100,105,110,115,120,125],"labelExpr":"datum.value % 20 == 0 ? datum.label : ''","gridDash":{"condition":{"test":"datum.value % 20 != 0","value":[1,2]},"value":[]},"gridOpacity":{"condition":{"test":"datum.value % 20 != 0","value":0.3},"value":0.18}}},"x2":{"field":"x2"},"fill":{"field":"c","type":"nominal","scale":{"domain":["pre","inj","post"],"range":["rgba(255,255,0,0.25)","rgba(240,40,40,0.33)","rgba(40,40,255,0.17)"]},"legend":null}}},
{"data":{"name":"G"},"mark":{"type":"line","strokeWidth":1,"clip":true},"encoding":{"x":{"field":"t","type":"quantitative","scale":{"domain":[1,126],"nice":false,"zero":false},"axis":{"title":null,"values":[5,10,15,20,25,30,35,40,45,50,55,60,65,70,75,80,85,90,95,100,105,110,115,120,125],"labelExpr":"datum.value % 20 == 0 ? datum.label : ''","gridDash":{"condition":{"test":"datum.value % 20 != 0","value":[1,2]},"value":[]},"gridOpacity":{"condition":{"test":"datum.value % 20 != 0","value":0.3},"value":0.18}}},"y":{"field":"v","type":"quantitative","scale":{"domain":[85,105],"nice":false,"zero":false},"axis":{"title":null,"values":[86,88,90,92,94,96,98,100,102,104],"labelExpr":"datum.value % 10 == 0 ? datum.label : ''","gridDash":{"condition":{"test":"datum.value % 10 != 0","value":[1,2]},"value":[]},"gridOpacity":{"condition":{"test":"datum.value % 10 != 0","value":0.3},"value":0.18}}},"stroke":{"field":"s","type":"nominal","scale":{"domain":["b","r"],"range":["#0000FF","#FF0000"]},"legend":null}}},
{"data":{"name":"G"},"mark":{"type":"point","opacity":0},"encoding":{"y":{"field":"v","type":"quantitative","scale":{"domain":[85,105],"nice":false,"zero":false},"axis":{"orient":"right","title":"G","labels":false,"grid":false,"titleAngle":0,"titleFontSize":21,"titleFontWeight":"bold","titleColor":"black","titlePadding":5,"titleAlign":"left","titleBaseline":"middle"}}}}]},
{"width":176,"height":80,"resolve":{"axis":{"y":"independent"}},"layer":[
{"data":{"name":"bands"},"mark":"rect","encoding":{"x":{"field":"x1","type":"quantitative","scale":{"domain":[1,126],"nice":false,"zero":false},"axis":{"title":"Time, s","values":[5,10,15,20,25,30,35,40,45,50,55,60,65,70,75,80,85,90,95,100,105,110,115,120,125],"labelExpr":"datum.value % 20 == 0 ? datum.label : ''","gridDash":{"condition":{"test":"datum.value % 20 != 0","value":[1,2]},"value":[]},"gridOpacity":{"condition":{"test":"datum.value % 20 != 0","value":0.3},"value":0.18}}},"x2":{"field":"x2"},"fill":{"field":"c","type":"nominal","scale":{"domain":["pre","inj","post"],"range":["rgba(255,255,0,0.25)","rgba(240,40,40,0.33)","rgba(40,40,255,0.17)"]},"legend":null}}},
{"data":{"name":"H"},"mark":{"type":"line","strokeWidth":1,"clip":true},"encoding":{"x":{"field":"t","type":"quantitative","scale":{"domain":[1,126],"nice":false,"zero":false},"axis":{"title":"Time, s","values":[5,10,15,20,25,30,35,40,45,50,55,60,65,70,75,80,85,90,95,100,105,110,115,120,125],"labelExpr":"datum.value % 20 == 0 ? datum.label : ''","gridDash":{"condition":{"test":"datum.value % 20 != 0","value":[1,2]},"value":[]},"gridOpacity":{"condition":{"test":"datum.value % 20 != 0","value":0.3},"value":0.18}}},"y":{"field":"v","type":"quantitative","scale":{"domain":[97.73,100.53],"nice":false,"zero":false},"axis":{"title":null,"values":[97.8,98,98.2,98.4,98.6,98.8,99,99.2,99.4,99.6,99.8,100,100.2,100.4],"labelExpr":"datum.value % 1 == 0 ? datum.label : ''","gridDash":{"condition":{"test":"datum.value % 1 != 0","value":[1,2]},"value":[]},"gridOpacity":{"condition":{"test":"datum.value % 1 != 0","value":0.3},"value":0.18}}},"stroke":{"field":"s","type":"nominal","scale":{"domain":["b","r"],"range":["#0000FF","#FF0000"]},"legend":null}}},
{"data":{"name":"H"},"mark":{"type":"point","opacity":0},"encoding":{"y":{"field":"v","type":"quantitative","scale":{"domain":[97.73,100.53],"nice":false,"zero":false},"axis":{"orient":"right","title":"H","labels":false,"grid":false,"titleAngle":0,"titleFontSize":21,"titleFontWeight":"bold","titleColor":"black","titlePadding":5,"titleAlign":"left","titleBaseline":"middle"}}}}]}
]},
{"spacing":13,"resolve":{"legend":{"stroke":"independent","fill":"independent"}},"vconcat":[
{"width":175,"height":80,"title":"Sumatriptan","resolve":{"axis":{"y":"independent"}},"layer":[
{"data":{"name":"bands"},"mark":"rect","encoding":{"x":{"field":"x1","type":"quantitative","scale":{"domain":[1,126],"nice":false,"zero":false},"axis":{"title":null,"values":[5,10,15,20,25,30,35,40,45,50,55,60,65,70,75,80,85,90,95,100,105,110,115,120,125],"labelExpr":"datum.value % 20 == 0 ? datum.label : ''","gridDash":{"condition":{"test":"datum.value % 20 != 0","value":[1,2]},"value":[]},"gridOpacity":{"condition":{"test":"datum.value % 20 != 0","value":0.3},"value":0.18}}},"x2":{"field":"x2"},"fill":{"field":"c","type":"nominal","scale":{"domain":["pre","inj","post"],"range":["rgba(255,255,0,0.25)","rgba(240,40,40,0.33)","rgba(40,40,255,0.17)"]},"legend":null}}},
{"data":{"name":"I"},"mark":{"type":"line","strokeWidth":1,"clip":true},"encoding":{"x":{"field":"t","type":"quantitative","scale":{"domain":[1,126],"nice":false,"zero":false},"axis":{"title":null,"values":[5,10,15,20,25,30,35,40,45,50,55,60,65,70,75,80,85,90,95,100,105,110,115,120,125],"labelExpr":"datum.value % 20 == 0 ? datum.label : ''","gridDash":{"condition":{"test":"datum.value % 20 != 0","value":[1,2]},"value":[]},"gridOpacity":{"condition":{"test":"datum.value % 20 != 0","value":0.3},"value":0.18}}},"y":{"field":"v","type":"quantitative","scale":{"domain":[98.3,125],"nice":false,"zero":false},"axis":{"title":null,"values":[100,102,104,106,108,110,112,114,116,118,120,122,124],"labelExpr":"datum.value % 10 == 0 ? datum.label : ''","gridDash":{"condition":{"test":"datum.value % 10 != 0","value":[1,2]},"value":[]},"gridOpacity":{"condition":{"test":"datum.value % 10 != 0","value":0.3},"value":0.18}}},"stroke":{"field":"s","type":"nominal","scale":{"domain":["b","r"],"range":["#0000FF","#FF0000"]},"legend":{"title":null,"orient":"top-right","offset":0,"fillColor":"white","strokeColor":"#262626","padding":3,"symbolType":"stroke","symbolSize":900,"symbolStrokeWidth":1,"symbolOffset":0,"clipHeight":12,"labelOffset":4,"rowPadding":1,"labelFontSize":11,"labelExpr":"datum.value == 'b' ? 'Baseline' : 'After injections'"}}}},
{"data":{"name":"I"},"mark":{"type":"point","opacity":0},"encoding":{"y":{"field":"v","type":"quantitative","scale":{"domain":[98.3,125],"nice":false,"zero":false},"axis":{"orient":"right","title":"I","labels":false,"grid":false,"titleAngle":0,"titleFontSize":21,"titleFontWeight":"bold","titleColor":"black","titlePadding":5,"titleAlign":"left","titleBaseline":"middle"}}}}]},
{"width":175,"height":80,"resolve":{"axis":{"y":"independent"}},"layer":[
{"data":{"name":"bands"},"mark":"rect","encoding":{"x":{"field":"x1","type":"quantitative","scale":{"domain":[1,126],"nice":false,"zero":false},"axis":{"title":null,"values":[5,10,15,20,25,30,35,40,45,50,55,60,65,70,75,80,85,90,95,100,105,110,115,120,125],"labelExpr":"datum.value % 20 == 0 ? datum.label : ''","gridDash":{"condition":{"test":"datum.value % 20 != 0","value":[1,2]},"value":[]},"gridOpacity":{"condition":{"test":"datum.value % 20 != 0","value":0.3},"value":0.18}}},"x2":{"field":"x2"},"fill":{"field":"c","type":"nominal","scale":{"domain":["pre","inj","post"],"range":["rgba(255,255,0,0.25)","rgba(240,40,40,0.33)","rgba(40,40,255,0.17)"]},"legend":null}}},
{"data":{"name":"J"},"mark":{"type":"line","strokeWidth":1,"clip":true},"encoding":{"x":{"field":"t","type":"quantitative","scale":{"domain":[1,126],"nice":false,"zero":false},"axis":{"title":null,"values":[5,10,15,20,25,30,35,40,45,50,55,60,65,70,75,80,85,90,95,100,105,110,115,120,125],"labelExpr":"datum.value % 20 == 0 ? datum.label : ''","gridDash":{"condition":{"test":"datum.value % 20 != 0","value":[1,2]},"value":[]},"gridOpacity":{"condition":{"test":"datum.value % 20 != 0","value":0.3},"value":0.18}}},"y":{"field":"v","type":"quantitative","scale":{"domain":[99,108],"nice":false,"zero":false},"axis":{"title":null,"values":[99,100,101,102,103,104,105,106,107],"labelExpr":"datum.value % 5 == 0 ? datum.label : ''","gridDash":{"condition":{"test":"datum.value % 5 != 0","value":[1,2]},"value":[]},"gridOpacity":{"condition":{"test":"datum.value % 5 != 0","value":0.3},"value":0.18}}},"stroke":{"field":"s","type":"nominal","scale":{"domain":["b","r"],"range":["#0000FF","#FF0000"]},"legend":null}}},
{"data":{"name":"J"},"mark":{"type":"point","opacity":0},"encoding":{"y":{"field":"v","type":"quantitative","scale":{"domain":[99,108],"nice":false,"zero":false},"axis":{"orient":"right","title":"J","labels":false,"grid":false,"titleAngle":0,"titleFontSize":21,"titleFontWeight":"bold","titleColor":"black","titlePadding":5,"titleAlign":"left","titleBaseline":"middle"}}}}]},
{"width":175,"height":80,"resolve":{"axis":{"y":"independent"}},"layer":[
{"data":{"name":"bands"},"mark":"rect","encoding":{"x":{"field":"x1","type":"quantitative","scale":{"domain":[1,126],"nice":false,"zero":false},"axis":{"title":null,"values":[5,10,15,20,25,30,35,40,45,50,55,60,65,70,75,80,85,90,95,100,105,110,115,120,125],"labelExpr":"datum.value % 20 == 0 ? datum.label : ''","gridDash":{"condition":{"test":"datum.value % 20 != 0","value":[1,2]},"value":[]},"gridOpacity":{"condition":{"test":"datum.value % 20 != 0","value":0.3},"value":0.18}}},"x2":{"field":"x2"},"fill":{"field":"c","type":"nominal","scale":{"domain":["pre","inj","post"],"range":["rgba(255,255,0,0.25)","rgba(240,40,40,0.33)","rgba(40,40,255,0.17)"]},"legend":null}}},
{"data":{"name":"K"},"mark":{"type":"line","strokeWidth":1,"clip":true},"encoding":{"x":{"field":"t","type":"quantitative","scale":{"domain":[1,126],"nice":false,"zero":false},"axis":{"title":null,"values":[5,10,15,20,25,30,35,40,45,50,55,60,65,70,75,80,85,90,95,100,105,110,115,120,125],"labelExpr":"datum.value % 20 == 0 ? datum.label : ''","gridDash":{"condition":{"test":"datum.value % 20 != 0","value":[1,2]},"value":[]},"gridOpacity":{"condition":{"test":"datum.value % 20 != 0","value":0.3},"value":0.18}}},"y":{"field":"v","type":"quantitative","scale":{"domain":[85,105],"nice":false,"zero":false},"axis":{"title":null,"values":[86,88,90,92,94,96,98,100,102,104],"labelExpr":"datum.value % 10 == 0 ? datum.label : ''","gridDash":{"condition":{"test":"datum.value % 10 != 0","value":[1,2]},"value":[]},"gridOpacity":{"condition":{"test":"datum.value % 10 != 0","value":0.3},"value":0.18}}},"stroke":{"field":"s","type":"nominal","scale":{"domain":["b","r"],"range":["#0000FF","#FF0000"]},"legend":null}}},
{"data":{"name":"K"},"mark":{"type":"point","opacity":0},"encoding":{"y":{"field":"v","type":"quantitative","scale":{"domain":[85,105],"nice":false,"zero":false},"axis":{"orient":"right","title":"K","labels":false,"grid":false,"titleAngle":0,"titleFontSize":21,"titleFontWeight":"bold","titleColor":"black","titlePadding":5,"titleAlign":"left","titleBaseline":"middle"}}}}]},
{"width":175,"height":80,"resolve":{"axis":{"y":"independent"}},"layer":[
{"data":{"name":"bands"},"mark":"rect","encoding":{"x":{"field":"x1","type":"quantitative","scale":{"domain":[1,126],"nice":false,"zero":false},"axis":{"title":"Time, s","values":[5,10,15,20,25,30,35,40,45,50,55,60,65,70,75,80,85,90,95,100,105,110,115,120,125],"labelExpr":"datum.value % 20 == 0 ? datum.label : ''","gridDash":{"condition":{"test":"datum.value % 20 != 0","value":[1,2]},"value":[]},"gridOpacity":{"condition":{"test":"datum.value % 20 != 0","value":0.3},"value":0.18}}},"x2":{"field":"x2"},"fill":{"field":"c","type":"nominal","scale":{"domain":["pre","inj","post"],"range":["rgba(255,255,0,0.25)","rgba(240,40,40,0.33)","rgba(40,40,255,0.17)"]},"legend":null}}},
{"data":{"name":"L"},"mark":{"type":"line","strokeWidth":1,"clip":true},"encoding":{"x":{"field":"t","type":"quantitative","scale":{"domain":[1,126],"nice":false,"zero":false},"axis":{"title":"Time, s","values":[5,10,15,20,25,30,35,40,45,50,55,60,65,70,75,80,85,90,95,100,105,110,115,120,125],"labelExpr":"datum.value % 20 == 0 ? datum.label : ''","gridDash":{"condition":{"test":"datum.value % 20 != 0","value":[1,2]},"value":[]},"gridOpacity":{"condition":{"test":"datum.value % 20 != 0","value":0.3},"value":0.18}}},"y":{"field":"v","type":"quantitative","scale":{"domain":[97.73,100.53],"nice":false,"zero":false},"axis":{"title":null,"values":[97.8,98,98.2,98.4,98.6,98.8,99,99.2,99.4,99.6,99.8,100,100.2,100.4],"labelExpr":"datum.value % 1 == 0 ? datum.label : ''","gridDash":{"condition":{"test":"datum.value % 1 != 0","value":[1,2]},"value":[]},"gridOpacity":{"condition":{"test":"datum.value % 1 != 0","value":0.3},"value":0.18}}},"stroke":{"field":"s","type":"nominal","scale":{"domain":["b","r"],"range":["#0000FF","#FF0000"]},"legend":null}}},
{"data":{"name":"L"},"mark":{"type":"point","opacity":0},"encoding":{"y":{"field":"v","type":"quantitative","scale":{"domain":[97.73,100.53],"nice":false,"zero":false},"axis":{"orient":"right","title":"L","labels":false,"grid":false,"titleAngle":0,"titleFontSize":21,"titleFontWeight":"bold","titleColor":"black","titlePadding":5,"titleAlign":"left","titleBaseline":"middle"}}}}]}
]}
]
}
